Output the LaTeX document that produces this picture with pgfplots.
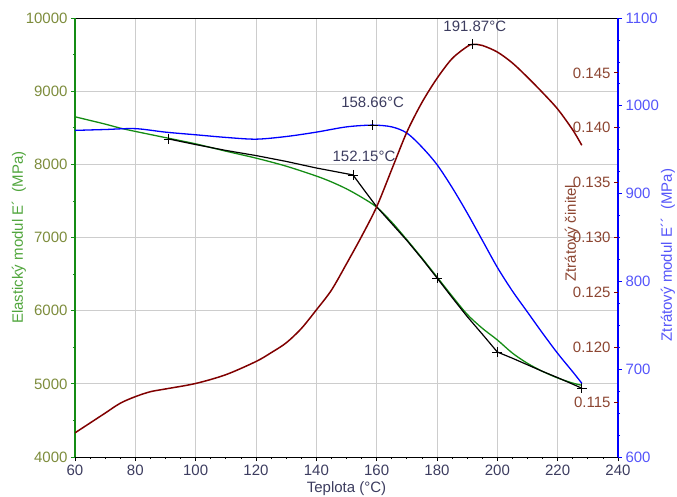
\documentclass[border=0pt]{standalone}
\usepackage{fontspec}
\setmainfont{Liberation Sans}
\usepackage{pgfplots}
\pgfplotsset{compat=1.18}

\definecolor{cgreen}{RGB}{20,140,20}
\definecolor{cdred}{RGB}{128,0,0}
\definecolor{cblue}{RGB}{0,0,255}
\definecolor{lefttick}{RGB}{125,140,60}
\definecolor{leftlab}{RGB}{80,165,60}
\definecolor{redtxt}{RGB}{140,70,50}
\definecolor{bluetxt}{RGB}{85,85,250}
\definecolor{xtxt}{RGB}{60,60,95}
\definecolor{gridc}{RGB}{205,205,205}

\pgfplotsset{
  base/.style={
    width=543pt, height=439pt, scale only axis,
    at={(0,0)}, anchor=south west,
    xmin=60, xmax=240,
    font=\fontsize{15}{18}\selectfont,
    scaled ticks=false,
    /pgf/number format/assume math mode=true,
    /pgf/number format/1000 sep={},
  }
}

\begin{document}
\begin{tikzpicture}
\path[use as bounding box] (-75pt,-39pt) rectangle (602pt,457pt);

% ---------- left axis: E' ----------
\begin{axis}[base,
  ymin=4000, ymax=10000,
  axis x line*=box, axis y line*=left,
  xtick={60,80,...,240}, minor x tick num=3, xtick pos=left,
  ytick={4000,5000,...,10000}, minor y tick num=1,
  x axis line style={black, line width=1pt, -},
  y axis line style={cgreen, line width=1.2pt, -},
  xtick style={black, line width=0.8pt},
  ytick style={cgreen, line width=0.8pt},
  tick align=outside,
  major tick length=4pt, minor tick length=2pt,
  grid=major, major grid style={gridc, line width=1pt},
  xticklabel style={text=xtxt},
  yticklabel style={text=lefttick},
  xlabel={Teplota (°C)}, xlabel style={text=xtxt},
  ylabel={Elastický modul E´~ (MPa)}, ylabel style={text=leftlab},
  ylabel shift=-7pt,
]
\addplot[cgreen, line width=1.3pt, smooth] coordinates {
(60,8650) (65,8600) (70,8550) (75,8495) (80,8450) (90,8365) (100,8280)
(110,8180) (120,8085) (130,7975) (140,7840) (145,7760) (150,7665)
(155,7550) (160,7415) (165,7210) (170,6970) (175,6720) (180,6460)
(185,6200) (190,5950) (195,5760) (200,5600) (205,5420) (210,5280)
(215,5170) (220,5080) (225,5010) (228,4980)};
\addplot[black, line width=1.2pt] coordinates {
(91,8347) (100,8270) (110,8190) (120,8120) (130,8040) (140,7950)
(152.15,7855) (156,7640) (160,7420) (165,7190) (170,6960) (175,6710)
(180,6447) (185,6180) (190,5920) (195,5680) (200,5435) (205,5350)
(210,5260) (215,5170) (220,5085) (225,4995) (228,4940)};
\addplot[only marks, mark=+, mark size=5pt, black, line width=0.8pt] coordinates {
(91,8347) (152.15,7855) (180,6447) (200,5435) (228,4940)};
\node[anchor=south, inner sep=0pt, text=xtxt, xshift=11pt, yshift=13pt] at (axis cs:152.15,7855) {152.15°C};
\end{axis}

% ---------- blue axis: E'' ----------
\begin{axis}[base,
  clip=false,
  ymin=600, ymax=1100,
  axis x line=none, axis y line*=right,
  y axis line style={cblue, line width=1.2pt, -},
  ytick={600,700,...,1100}, minor y tick num=3,
  tick align=outside, major tick length=4pt, minor tick length=2pt,
  ytick style={cblue, line width=0.8pt},
  yticklabel style={text=bluetxt},
]
\addplot[cblue, line width=1.3pt, smooth] coordinates {
(60,972) (70,973) (80,974) (90,970) (100,967) (110,964) (120,962)
(130,965) (140,970) (150,976) (158.66,978) (165,976) (170,969)
(175,953) (180,933) (185,907) (190,878) (195,847) (200,816)
(205,789) (210,765) (215,741) (220,718) (225,697) (228,684)};
\addplot[only marks, mark=+, mark size=5pt, black, line width=0.8pt] coordinates {(158.66,978)};
\node[anchor=south, inner sep=0pt, text=xtxt, yshift=17pt] at (axis cs:158.66,978) {158.66°C};
\node[rotate=90, text=bluetxt, anchor=center, inner sep=0pt] at ([xshift=50pt]rel axis cs:1,0.46) {Ztrátový modul E´´~ (MPa)};
\end{axis}

% ---------- red axis: loss factor ----------
\begin{axis}[base,
  ymin=0.110, ymax=0.150,
  axis x line=none, axis y line*=right,
  y axis line style={draw=none},
  ytick={0.115,0.120,0.125,0.130,0.135,0.140,0.145},
  yticklabels={0.115,0.120,0.125,0.130,0.135,0.140,0.145},
  tick align=inside, major tick length=4pt,
  ytick style={cdred, line width=0.8pt},
  yticklabel style={text=redtxt, anchor=east, xshift=-4pt},
]
\addplot[cdred, line width=1.5pt, smooth] coordinates {
(60,0.1122) (65,0.1131) (70,0.1140) (75,0.1149) (80,0.1155) (85,0.11595)
(90,0.1162) (100,0.1167) (110,0.1175) (120,0.1187) (125,0.1195)
(130,0.1204) (135,0.1217) (140,0.1234) (145,0.1252) (150,0.1276)
(155,0.1301) (160,0.1328) (165,0.1362) (170,0.1396) (175,0.1423)
(180,0.1445) (185,0.1463) (190,0.1474) (191.87,0.1476) (195,0.1475)
(200,0.1469) (205,0.1459) (210,0.1446) (215,0.1432) (220,0.1417)
(225,0.1398) (228,0.1384)};
\addplot[only marks, mark=+, mark size=5pt, black, line width=0.8pt] coordinates {(191.87,0.1476)};
\node[anchor=south, inner sep=0pt, text=xtxt, xshift=2pt, yshift=12pt] at (axis cs:191.87,0.1476) {191.87°C};
\node[rotate=90, text=redtxt, anchor=center, inner sep=0pt] at ([xshift=-46pt]rel axis cs:1,0.51) {Ztrátový činitel};
\end{axis}
\end{tikzpicture}
\end{document}
